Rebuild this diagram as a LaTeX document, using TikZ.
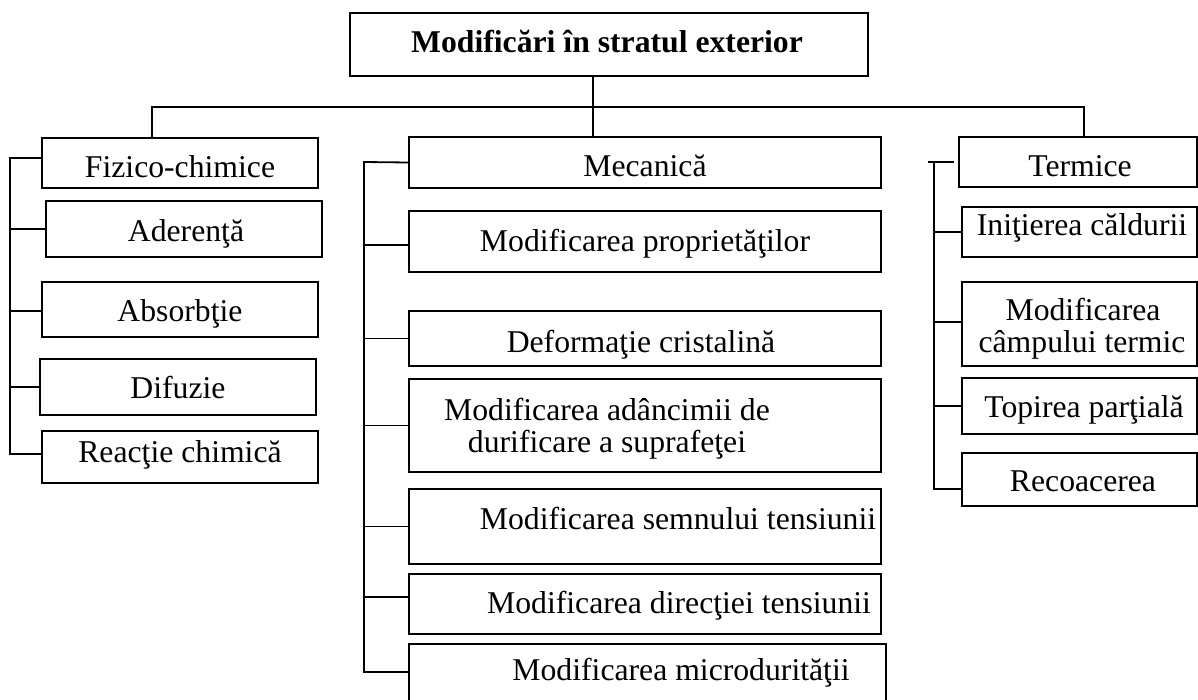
\documentclass[tikz,border=0pt]{standalone}
\usepackage{fontspec}
\setmainfont{Liberation Serif}
\begin{document}
\begin{tikzpicture}[x=1pt,y=-1pt,
  box/.style={draw, rectangle, line width=1.8pt, inner sep=0pt},
  conn/.style={line width=1.8pt},
  lbl/.style={anchor=base, inner sep=0pt, font=\fontsize{31.7}{32}\selectfont}]
\fill[white] (0,0) rectangle (1198,700);
\useasboundingbox (0,0) rectangle (1198,700);
\clip (0,0) rectangle (1198,700);

% top
\node[box, minimum width=518pt, minimum height=63pt] (title) at (609,44.5) {};
\node[lbl, font=\fontsize{31.7}{32}\selectfont\bfseries] (ttitle) at (607,53) {Modificări în stratul exterior};

% left column
\node[box, minimum width=276pt, minimum height=50pt] (fiz) at (180,163) {};
\node[box, minimum width=276pt, minimum height=56pt] (ade) at (184,229) {};
\node[box, minimum width=276pt, minimum height=55pt] (abs) at (180,309.5) {};
\node[box, minimum width=276pt, minimum height=56pt] (dif) at (178,387) {};
\node[box, minimum width=276pt, minimum height=52pt] (rea) at (180,457) {};
\node[lbl] (tfiz) at (180,178) {Fizico-chimice};
\node[lbl] (tade) at (186,242) {Aderenţă};
\node[lbl] (tabs) at (180,321) {Absorbţie};
\node[lbl] (tdif) at (178,398) {Difuzie};
\node[lbl] (trea) at (180,462) {Reacţie chimică};

% middle column
\node[box, minimum width=472pt, minimum height=51pt] (mec) at (645,162.5) {};
\node[box, minimum width=472pt, minimum height=61pt] (prop) at (645,241.5) {};
\node[box, minimum width=472pt, minimum height=55pt] (def) at (645,338.5) {};
\node[box, minimum width=472pt, minimum height=93pt] (adan) at (645,425.5) {};
\node[box, minimum width=472pt, minimum height=75pt] (semn) at (645,526.5) {};
\node[box, minimum width=472pt, minimum height=60pt] (dir) at (645,604) {};
\node[box, minimum width=477pt, minimum height=66pt] (micro) at (647.5,677) {};
\node[lbl] (tmec) at (645,177) {Mecanică};
\node[lbl] (tprop) at (645,252) {Modificarea proprietăţilor};
\node[lbl] (tdef) at (641,352) {Deformaţie cristalină};
\node[lbl] (tadan1) at (607,420) {Modificarea adâncimii de};
\node[lbl] (tadan2) at (607,452) {durificare a suprafeţei};
\node[lbl] (tsemn) at (678,529) {Modificarea semnului tensiunii};
\node[lbl] (tdir) at (679,613) {Modificarea direcţiei tensiunii};
\node[lbl] (tmicro) at (681,680) {Modificarea microdurităţii};

% right column
\node[box, minimum width=238pt, minimum height=50pt] (term) at (1078,162) {};
\node[box, minimum width=235pt, minimum height=50pt] (init) at (1079.5,232) {};
\node[box, minimum width=235pt, minimum height=84pt] (camp) at (1079.5,324) {};
\node[box, minimum width=235pt, minimum height=56pt] (topi) at (1079.5,406) {};
\node[box, minimum width=235pt, minimum height=53pt] (rec) at (1079.5,479.5) {};
\node[lbl] (tterm) at (1080,177) {Termice};
\node[lbl] (tinit) at (1082,236) {Iniţierea căldurii};
\node[lbl] (tcamp1) at (1083,320) {Modificarea};
\node[lbl] (tcamp2) at (1082,352) {câmpului termic};
\node[lbl] (ttopi) at (1084,417) {Topirea parţială};
\node[lbl] (trec) at (1083,491) {Recoacerea};

% trunk and main branches
\coordinate (hub) at (593,107);
\draw[conn] ([xshift=-16pt]title.south) -- ([xshift=-16pt]title.south |- mec.north);
\draw[conn] ([xshift=-28pt]fiz.north) |- (hub) -| ([xshift=6pt]term.north);

% left bus
\coordinate (lbt) at (10,158);
\coordinate (lbb) at (10,454);
\draw[conn] ([yshift=5pt]fiz.west) -- (lbt) -- (lbb) -- ([yshift=3pt]rea.west);
\draw[conn] (lbt |- ade.west) -- (ade.west);
\draw[conn] ([yshift=-1.5pt]lbt |- abs.west) -- ([yshift=-1.5pt]abs.west);
\draw[conn] (lbt |- dif.west) -- (dif.west);

% middle bus
\coordinate (mbt) at (364,162);
\coordinate (mbb) at (364,672);
\draw[conn] (mec.west) -- (mbt) -- (mbb) -- ([yshift=5pt]micro.west);
\draw[conn] ([yshift=-3.5pt]mbt |- prop.west) -- ([yshift=-3.5pt]prop.west);
\draw[conn] (mbt |- def.west) -- (def.west);
\draw[conn] (mbt |- adan.west) -- (adan.west);
\draw[conn] (mbt |- semn.west) -- (semn.west);
\draw[conn] ([yshift=7pt]mbt |- dir.west) -- ([yshift=7pt]dir.west);

% right bus
\coordinate (rbt) at (934,162);
\coordinate (rbb) at (934,489);
\coordinate (rstub) at (928,162);
\draw[conn] (rstub) -- ([xshift=-4pt]term.west);
\draw[conn] (rbt) -- (rbb) -- ([yshift=-9.5pt]rec.west);
\draw[conn] (rbt |- init.west) -- (init.west);
\draw[conn] ([yshift=2pt]rbt |- camp.west) -- ([yshift=2pt]camp.west);
\draw[conn] (rbt |- topi.west) -- (topi.west);
\end{tikzpicture}
\end{document}
